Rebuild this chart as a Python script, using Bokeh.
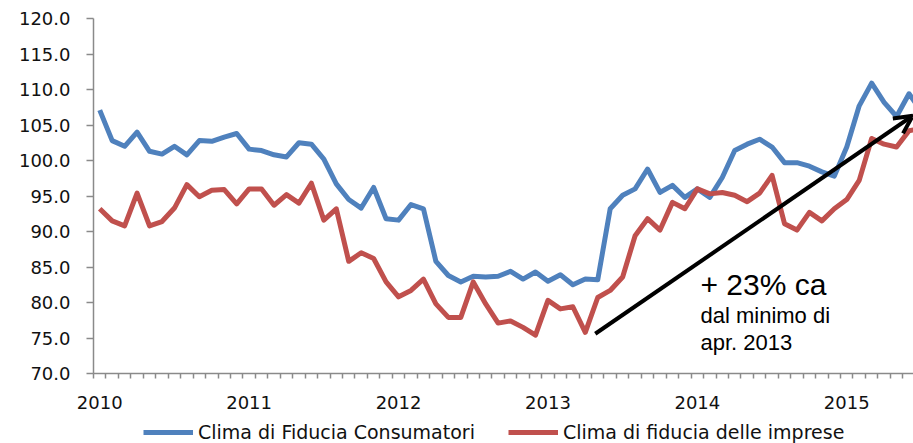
from bokeh.plotting import figure
from bokeh.layouts import column
from bokeh.models import (Range1d, FixedTicker, Legend, LegendItem, Arrow, OpenHead, Label)
from bokeh.embed import file_html
from bokeh.resources import INLINE

# ---- data (monthly, Jan 2010 .. Jul 2015) ----
consumatori = [107.1, 102.8, 102.0, 104.0, 101.3, 100.9, 102.0, 100.8, 102.8, 102.7, 103.3, 103.8,
               101.6, 101.4, 100.8, 100.5, 102.5, 102.3, 100.2, 96.7, 94.5, 93.3, 96.2, 91.8,
               91.6, 93.8, 93.2, 85.8, 83.8, 82.9, 83.7, 83.6, 83.7, 84.4, 83.3, 84.3,
               83.0, 83.9, 82.5, 83.3, 83.2, 93.2, 95.1, 96.0, 98.8, 95.5, 96.5, 94.8,
               96.0, 94.8, 97.6, 101.4, 102.3, 103.0, 101.9, 99.7, 99.7, 99.2, 98.4, 97.8,
               101.9, 107.7, 110.9, 108.2, 106.2, 109.4, 106.9]
imprese = [93.2, 91.5, 90.8, 95.4, 90.8, 91.4, 93.3, 96.6, 94.9, 95.8, 95.9, 93.9,
           96.0, 96.0, 93.7, 95.2, 94.0, 96.8, 91.6, 93.2, 85.8, 87.0, 86.2, 82.9,
           80.8, 81.7, 83.3, 79.8, 77.9, 77.9, 82.9, 79.8, 77.1, 77.4, 76.5, 75.4,
           80.3, 79.1, 79.4, 75.8, 80.7, 81.7, 83.6, 89.4, 91.8, 90.2, 94.1, 93.2,
           96.0, 95.3, 95.5, 95.1, 94.2, 95.4, 97.9, 91.1, 90.2, 92.7, 91.5, 93.2,
           94.5, 97.2, 103.1, 102.3, 101.9, 104.2, 104.5]
months = list(range(len(consumatori)))
year_labels = ["2010", "2011", "2012", "2013", "2014", "2015"]
year_ticks = [12 * k for k in range(len(year_labels))]
y_ticks = [70, 75, 80, 85, 90, 95, 100, 105, 110, 115, 120]
series_names = ["Clima di Fiducia Consumatori", "Clima di fiducia delle imprese"]

# annotation: from the April 2013 minimum of business confidence
arrow_start = (39.8, 75.6)
arrow_end = (65.3, 106.3)
ann_x = 48.25
ann_lines = [("+ 23% ca", 82.6, "30px"), ("dal minimo di", 78.2, "22px"), ("apr. 2013", 74.3, "22px")]

BLUE = "#4F81BD"
RED = "#C0504D"
AXIS_FONT = "DejaVu Sans"
W = 913
H_MAIN = 418
H_LEG = 25
LEFT = 93

p = figure(width=W, height=H_MAIN, output_backend="svg", toolbar_location=None,
           x_range=Range1d(-0.5, 65.36), y_range=Range1d(70, 120),
           min_border_left=LEFT, min_border_right=0, min_border_top=18, min_border_bottom=H_MAIN - 373)
p.outline_line_color = None
p.xgrid.visible = False
p.ygrid.visible = False
p.background_fill_color = "white"

r1 = p.line(months, consumatori, line_color=BLUE, line_width=5, line_join="round")
r2 = p.line(months, imprese, line_color=RED, line_width=5, line_join="round")

# y axis
ya = p.yaxis[0]
ya.ticker = FixedTicker(ticks=y_ticks, minor_ticks=[])
ya.major_label_overrides = {t: f"{t:.1f}" for t in y_ticks}
ya.major_tick_out = 7
ya.major_tick_in = 0
ya.major_label_standoff = 16
ya.axis_line_color = "#8a8a8a"
ya.axis_line_width = 1.5
ya.major_tick_line_color = "#8a8a8a"
ya.major_tick_line_width = 1.5
ya.major_label_text_font = AXIS_FONT
ya.major_label_text_font_size = "18px"
ya.major_label_text_color = "#111111"

# x axis
xa = p.xaxis[0]
xa.ticker = FixedTicker(ticks=year_ticks, minor_ticks=[i - 0.5 for i in range(0, 68)])
xa.major_label_overrides = {t: l for t, l in zip(year_ticks, year_labels)}
xa.major_tick_out = 0
xa.major_tick_in = 0
xa.minor_tick_out = 5
xa.minor_tick_in = 0
xa.major_label_standoff = 17
xa.axis_line_color = "#8a8a8a"
xa.axis_line_width = 1.5
xa.minor_tick_line_color = "#8a8a8a"
xa.minor_tick_line_width = 1.5
xa.major_label_text_font = AXIS_FONT
xa.major_label_text_font_size = "18px"
xa.major_label_text_color = "#111111"

# annotation
p.add_layout(Arrow(end=OpenHead(size=18, line_width=4, line_color="black"),
                   x_start=arrow_start[0], y_start=arrow_start[1],
                   x_end=arrow_end[0], y_end=arrow_end[1],
                   line_width=4, line_color="black"))
for txt, yy, fs in ann_lines:
    p.add_layout(Label(x=ann_x, y=yy, text=txt, text_font="Liberation Sans",
                       text_font_size=fs, text_color="black", text_baseline="alphabetic"))

# legend strip (separate figure below the chart; its frame is aligned with the chart's)
p2 = figure(width=W, height=H_LEG, output_backend="svg", toolbar_location=None,
            x_range=Range1d(0, 1), y_range=Range1d(0, 1),
            x_axis_location=None, y_axis_location=None,
            min_border_left=LEFT, min_border_right=0, min_border_top=0, min_border_bottom=0)
p2.outline_line_color = None
p2.xgrid.visible = False
p2.ygrid.visible = False
# single-point proxies (draw nothing themselves) so the legend has line styles to show
l1 = p2.line(x=[-1], y=[-1], line_color=BLUE, line_width=5)
l2 = p2.line(x=[-1], y=[-1], line_color=RED, line_width=5)
legend = Legend(items=[LegendItem(label=series_names[0], renderers=[l1]),
                       LegendItem(label=series_names[1], renderers=[l2])],
                orientation="horizontal", location=(143 - LEFT, 0),
                label_text_font=AXIS_FONT, label_text_font_size="19px", label_text_color="#111111",
                glyph_width=50, glyph_height=20, label_height=20, spacing=33, label_standoff=5,
                padding=0, margin=0, border_line_color=None, background_fill_alpha=0)
p2.add_layout(legend, "center")

layout = column(p, p2, spacing=0)
open("out.html", "w").write(file_html(layout, INLINE))
